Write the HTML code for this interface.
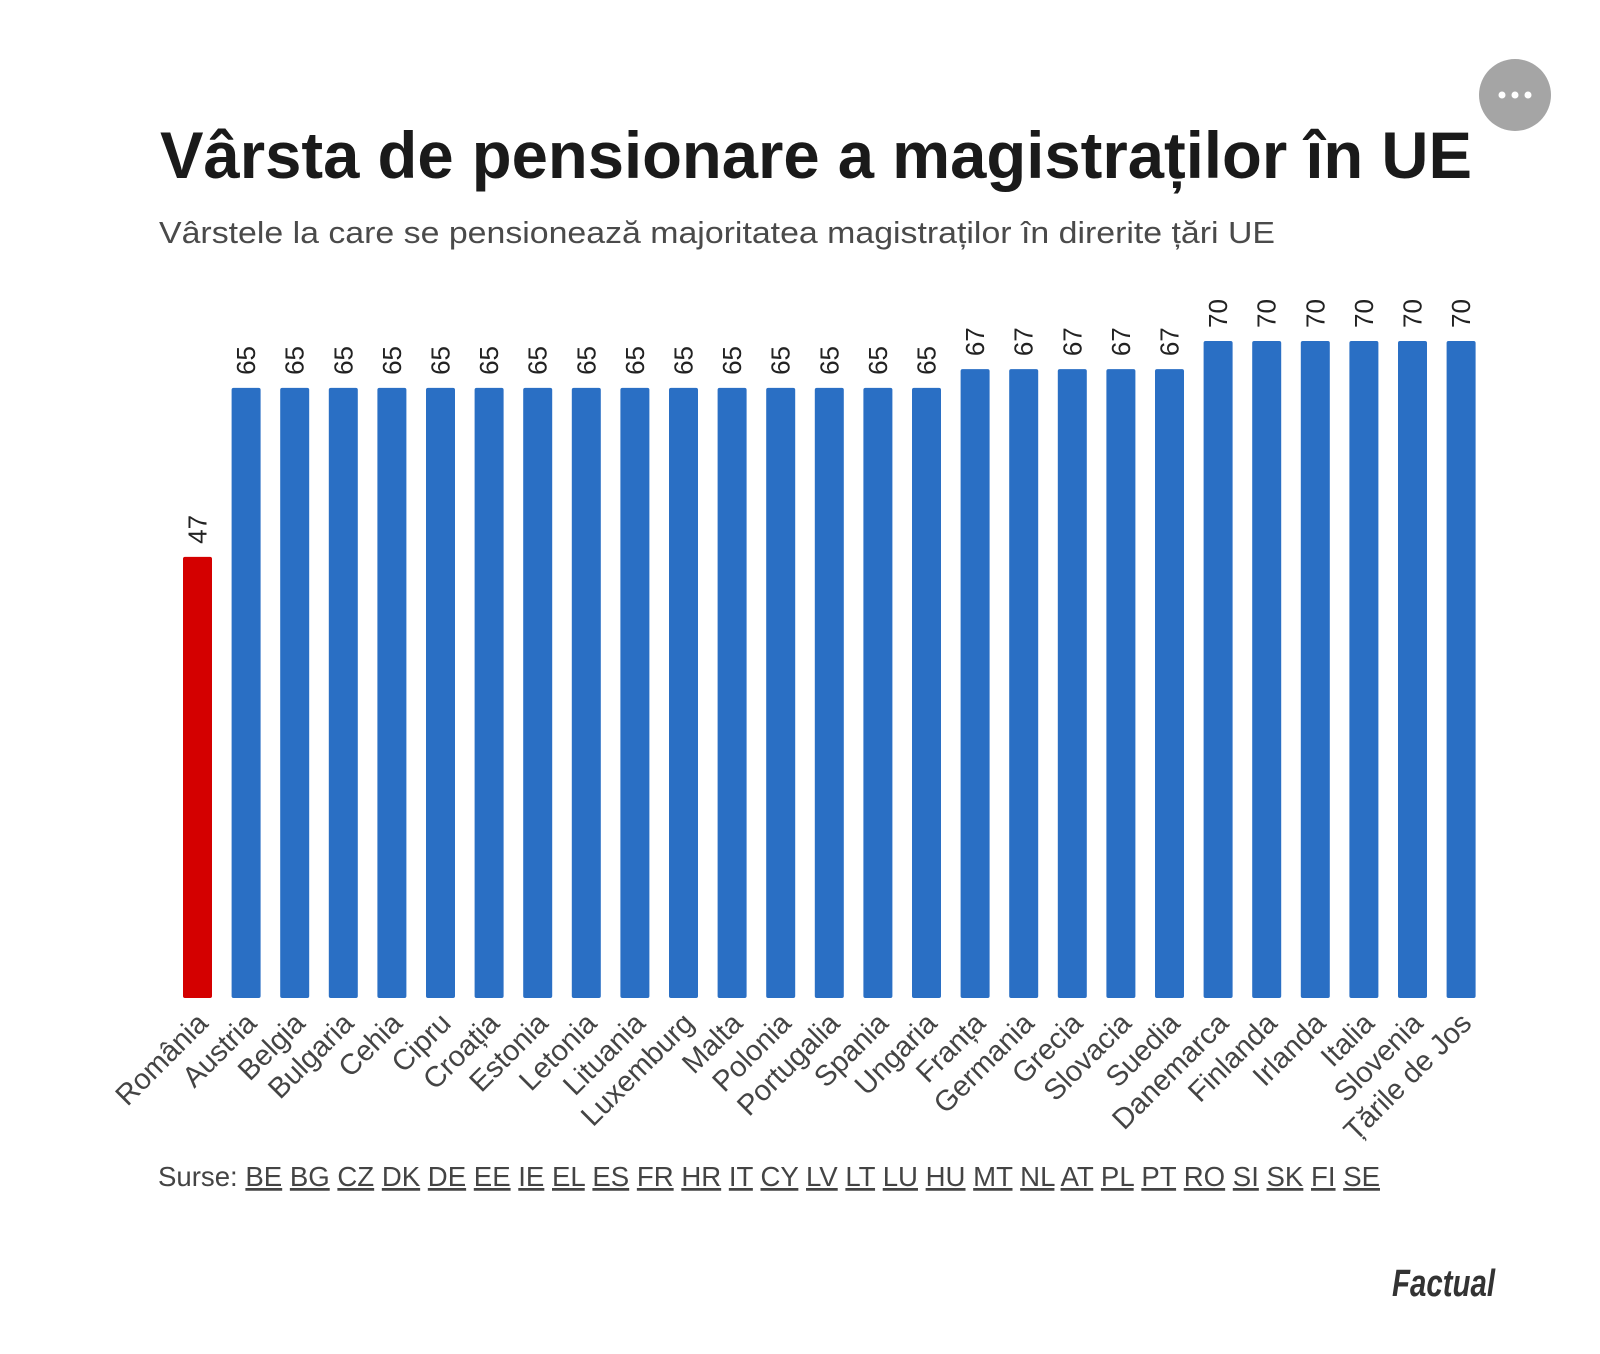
<!DOCTYPE html>
<html><head><meta charset="utf-8"><style>
html,body{margin:0;padding:0;background:#fff;}
svg{display:block;}
text{font-family:"Liberation Sans",sans-serif;}
</style></head><body>
<svg width="1600" height="1354" viewBox="0 0 1600 1354">
<text x="160" y="178" font-size="66" font-weight="bold" fill="#1a1a1a" textLength="1312" lengthAdjust="spacingAndGlyphs">Vârsta de pensionare a magistraților în UE</text>
<text x="159" y="243" font-size="31" fill="#4a4a4a" textLength="1116" lengthAdjust="spacingAndGlyphs">Vârstele la care se pensionează majoritatea magistraților în direrite țări UE</text>
<g>
<circle cx="1515" cy="95" r="36" fill="#a5a5a5"/>
<circle cx="1502" cy="95" r="3.5" fill="#fff"/><circle cx="1515" cy="95" r="3.5" fill="#fff"/><circle cx="1528" cy="95" r="3.5" fill="#fff"/>
</g>
<g id="bars"></g>
<g id="vals"></g>
<g id="cats"></g>
<text id="srcText" x="158" y="1186" font-size="27.5" fill="#444" textLength="1222" lengthAdjust="spacingAndGlyphs">Surse:</text>
<text x="1392" y="1296" font-size="38" font-family="'Liberation Serif',serif" font-style="italic" font-weight="bold" fill="#333" textLength="103" lengthAdjust="spacingAndGlyphs">Factual</text>
</svg>
<script>
const categories=["România","Austria","Belgia","Bulgaria","Cehia","Cipru","Croația","Estonia","Letonia","Lituania","Luxemburg","Malta","Polonia","Portugalia","Spania","Ungaria","Franța","Germania","Grecia","Slovacia","Suedia","Danemarca","Finlanda","Irlanda","Italia","Slovenia","Țările de Jos"];
const values=[47,65,65,65,65,65,65,65,65,65,65,65,65,65,65,65,67,67,67,67,67,70,70,70,70,70,70];
const sources=["BE","BG","CZ","DK","DE","EE","IE","EL","ES","FR","HR","IT","CY","LV","LT","LU","HU","MT","NL","AT","PL","PT","RO","SI","SK","FI","SE"];
const NS="http://www.w3.org/2000/svg";
const x0=183,pitch=48.6,bw=29,base=998,k=657/70;
const xS=i=>x0+i*pitch;
const yS=v=>base-v*k;
const bars=document.getElementById('bars'),vals=document.getElementById('vals'),cats=document.getElementById('cats');
categories.forEach((c,i)=>{
 const v=values[i];
 const r=document.createElementNS(NS,'rect');
 r.setAttribute('x',xS(i));r.setAttribute('y',yS(v));r.setAttribute('width',bw);r.setAttribute('height',base-yS(v));
 r.setAttribute('rx',2);r.setAttribute('fill',i===0?'#d40000':'#2a6fc4');
 
 
 bars.appendChild(r);
 const cx=xS(i)+bw/2;
 const t=document.createElementNS(NS,'text');
 t.setAttribute('transform',`translate(${cx+9},${yS(v)-13}) rotate(-90)`);
 t.setAttribute('font-size','26');t.setAttribute('fill','#222');
 t.textContent=v;
 
 
 vals.appendChild(t);
 const l=document.createElementNS(NS,'text');
 l.setAttribute('transform',`translate(${cx+12},${base+27}) rotate(-45)`);
 l.setAttribute('text-anchor','end');l.setAttribute('font-size','29');l.setAttribute('fill','#444');
 l.textContent=c;
 
 
 cats.appendChild(l);
});
const st=document.getElementById('srcText');
sources.forEach(s=>{
 st.appendChild(document.createTextNode(' '));
 const ts=document.createElementNS(NS,'tspan');
 ts.setAttribute('text-decoration','underline');
 ts.textContent=s;
 
 
 st.appendChild(ts);
});
</script>
</body></html>
